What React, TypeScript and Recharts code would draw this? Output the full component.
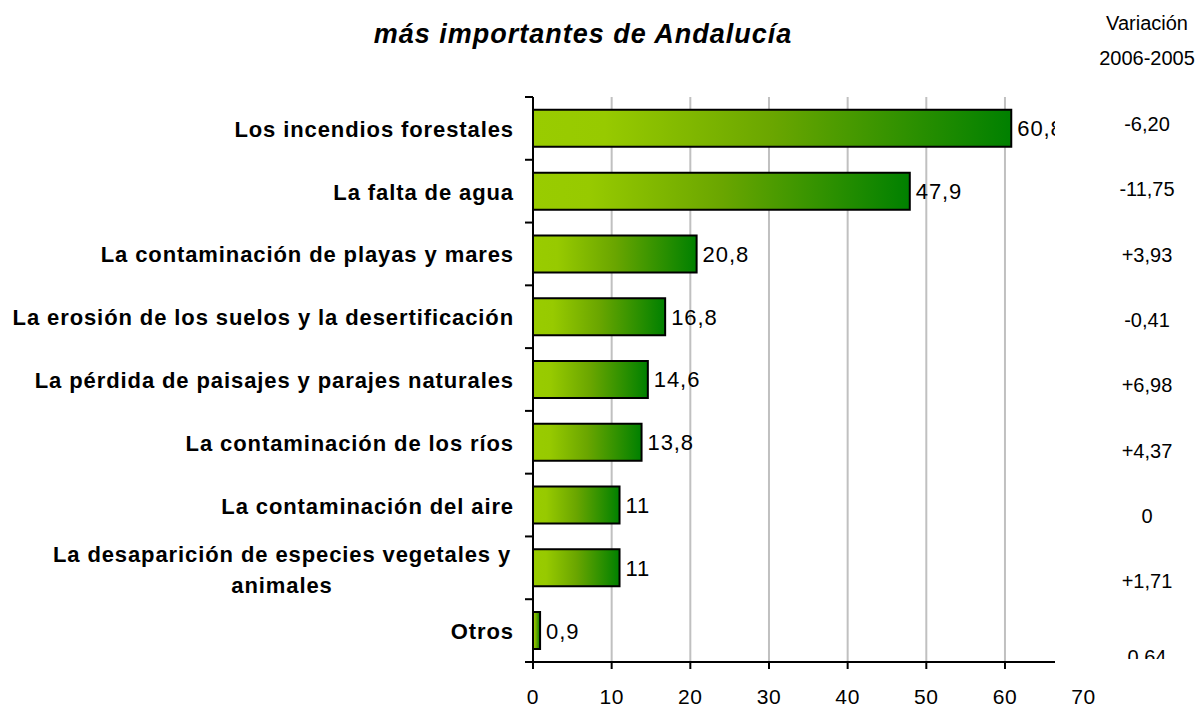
import { BarChart, Bar, XAxis, YAxis, CartesianGrid, LabelList } from 'recharts';

const categories = [
  'Los incendios forestales',
  'La falta de agua',
  'La contaminación de playas y mares',
  'La erosión de los suelos y la desertificación',
  'La pérdida de paisajes y parajes naturales',
  'La contaminación de los ríos',
  'La contaminación del aire',
  'La desaparición de especies vegetales y\nanimales',
  'Otros',
];
const values = [60.8, 47.9, 20.8, 16.8, 14.6, 13.8, 11, 11, 0.9];
const variation = ['-6,20', '-11,75', '+3,93', '-0,41', '+6,98', '+4,37', '0', '+1,71', '0,64'];
const variationHeader = ['Variación', '2006-2005'];
const xTicks = [0, 10, 20, 30, 40, 50, 60, 70];
const gridTicks = [10, 20, 30, 40, 50, 60];
const title = 'más importantes de Andalucía';

const W = 1199;
const H = 707;
const PLOT_LEFT = 533;
const PLOT_RIGHT = 1055;
const PLOT_TOP = 97;
const PLOT_BOTTOM = 662;
const X_MAX = 66.36;
const FONT = '"Liberation Sans", Arial, sans-serif';

const data = categories.map((name, i) => ({ name, value: values[i] }));

const fmt = (v: number) => String(v).replace('.', ',');

const gridCoords = ({ xAxis, offset }: any) => {
  if (xAxis && typeof xAxis.scale === 'function') return gridTicks.map((v) => xAxis.scale(v));
  return gridTicks.map((v) => offset.left + (v / X_MAX) * offset.width);
};

const YTick = ({ y, payload, index }: any) => {
  const band = (PLOT_BOTTOM - PLOT_TOP) / categories.length;
  const lines = String(payload.value).split('\n');
  const common = { fontFamily: FONT, fontSize: 22, fontWeight: 700, letterSpacing: 0.9, fill: '#000' };
  return (
    <g>
      <line x1={PLOT_LEFT - 8} x2={PLOT_LEFT} y1={y - band / 2} y2={y - band / 2} stroke="#000" strokeWidth={2} />
      {index === categories.length - 1 && (
        <line x1={PLOT_LEFT - 8} x2={PLOT_LEFT} y1={y + band / 2} y2={y + band / 2} stroke="#000" strokeWidth={2} />
      )}
      {lines.length === 1 ? (
        <text x={PLOT_LEFT - 19} y={y + 8.5} textAnchor="end" {...common}>{lines[0]}</text>
      ) : (
        <text textAnchor="middle" {...common}>
          <tspan x={PLOT_LEFT - 251} y={y - 6}>{lines[0]}</tspan>
          <tspan x={PLOT_LEFT - 251} y={y + 25}>{lines[1]}</tspan>
        </text>
      )}
    </g>
  );
};

const XTick = ({ x, payload }: any) => (
  <g>
    {payload.value <= 60 && (
      <line x1={x} x2={x} y1={PLOT_BOTTOM} y2={PLOT_BOTTOM + 7} stroke="#000" strokeWidth={2} />
    )}
    <text x={x} y={704} textAnchor="middle" fontFamily={FONT} fontSize={21} letterSpacing={0.6} fill="#000">
      {payload.value}
    </text>
  </g>
);

const ValueLabel = ({ x, y, width, height, value }: any) => (
  <text
    x={x + width + 6}
    y={y + height / 2 + 8}
    clipPath="url(#plotClip)"
    fontFamily={FONT}
    fontSize={22}
    letterSpacing={0.9}
    fill="#000"
  >
    {fmt(value)}
  </text>
);

export default function App() {
  return (
    <div style={{ position: 'absolute', left: 0, top: 0, width: W, height: H, background: '#fff' }}>
      <BarChart
        width={W}
        height={H}
        data={data}
        layout="vertical"
        margin={{ top: PLOT_TOP, right: W - PLOT_RIGHT, left: 0, bottom: 0 }}
        barCategoryGap="20.5%"
      >
        <defs>
          <linearGradient id="barFill" x1="0" y1="0" x2="1" y2="0">
            <stop offset="0%" stopColor="#99cc00" />
            <stop offset="15%" stopColor="#97ca00" />
            <stop offset="50%" stopColor="#6aa600" />
            <stop offset="100%" stopColor="#008000" />
          </linearGradient>
          <clipPath id="plotClip">
            <rect x={0} y={0} width={PLOT_RIGHT} height={H} />
          </clipPath>
        </defs>
        <CartesianGrid
          horizontal={false}
          stroke="#c0c0c0"
          strokeWidth={2}
          verticalCoordinatesGenerator={gridCoords}
        />
        <XAxis
          type="number"
          domain={[0, X_MAX]}
          ticks={xTicks}
          interval={0}
          allowDataOverflow
          height={H - PLOT_BOTTOM}
          axisLine={{ stroke: '#000', strokeWidth: 2 }}
          tickLine={false}
          tick={<XTick />}
        />
        <YAxis
          type="category"
          dataKey="name"
          width={PLOT_LEFT}
          interval={0}
          axisLine={{ stroke: '#000', strokeWidth: 2 }}
          tickLine={false}
          tick={<YTick />}
        />
        <Bar dataKey="value" fill="url(#barFill)" stroke="#000" strokeWidth={2} isAnimationActive={false}>
          <LabelList dataKey="value" content={<ValueLabel />} />
        </Bar>
      </BarChart>
      <svg width={W} height={H} style={{ position: 'absolute', left: 0, top: 0, pointerEvents: 'none' }}>
        <defs>
          <clipPath id="varClip">
            <rect x={0} y={0} width={W} height={659} />
          </clipPath>
        </defs>
        <text x={583} y={43} textAnchor="middle" fontFamily={FONT} fontSize={27} fontWeight={700} fontStyle="italic" letterSpacing={1} fill="#000">
          {title}
        </text>
        {variationHeader.map((t, i) => (
          <text key={t} x={1147} y={30 + i * 35} textAnchor="middle" fontFamily={FONT} fontSize={20} fill="#000">
            {t}
          </text>
        ))}
        <g clipPath="url(#varClip)">
          {variation.map((t, i) => (
            <text
              key={i}
              x={1147}
              y={131 + i * 65.3 + (i === variation.length - 1 ? 11 : 0)}
              textAnchor="middle"
              fontFamily={FONT}
              fontSize={20}
              fill="#000"
            >
              {t}
            </text>
          ))}
        </g>
      </svg>
    </div>
  );
}
